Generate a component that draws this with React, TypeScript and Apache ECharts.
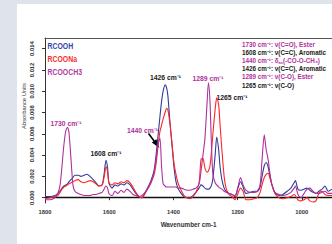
import React, { useEffect, useRef } from "react";
import * as echarts from "echarts";

const wavenumbers = [
  1800, 1784, 1769, 1760, 1753, 1747, 1741, 1735, 1730, 1725,
  1719, 1713, 1707, 1697, 1688, 1679, 1669, 1660, 1650, 1641,
  1632, 1622, 1616, 1610, 1605, 1601, 1591, 1582, 1573, 1563,
  1554, 1545, 1535, 1526, 1517, 1507, 1498, 1488, 1479, 1470,
  1460, 1454, 1448, 1442, 1437, 1432, 1426, 1421, 1417, 1411,
  1404, 1398, 1392, 1386, 1376, 1367, 1358, 1348, 1339, 1330,
  1320, 1314, 1308, 1302, 1295, 1291, 1286, 1281, 1277, 1270,
  1265, 1259, 1255, 1249, 1242, 1236, 1227, 1217, 1208, 1199,
  1191, 1183, 1174, 1161, 1149, 1139, 1130, 1124, 1117, 1111,
  1105, 1099, 1093, 1084, 1071, 1059, 1046, 1034, 1024, 1020,
  1012, 1003, 993, 984, 975, 965, 956, 947, 937, 928,
  918, 906,
];

const rcooh = [
  0.0001, 0.0001, 0.0002, 0.0004, 0.0006, 0.0009, 0.0011, 0.0012, 0.0013, 0.0015,
  0.0017, 0.0019, 0.0021, 0.0021, 0.002, 0.0021, 0.0022, 0.002, 0.0017, 0.0014,
  0.0011, 0.0012, 0.0022, 0.0035, 0.0028, 0.0014, 0.0009, 0.0012, 0.0011, 0.0013,
  0.0012, 0.0014, 0.0012, 0.0008, 0.0004, 0.0001, 0.0, 0.0005, 0.001, 0.0016,
  0.0026, 0.004, 0.0058, 0.0076, 0.009, 0.01, 0.0106, 0.0103, 0.0095, 0.0072,
  0.0048, 0.0028, 0.0015, 0.0009, 0.0004, 0.0001, 0.0, 0.0, 0.0002, 0.0005,
  0.0009, 0.0012, 0.0011, 0.0009, 0.0008, 0.0008, 0.0009, 0.0012, 0.0018, 0.004,
  0.0057, 0.0045, 0.003, 0.0017, 0.0009, 0.0006, 0.0004, 0.0003, 0.0001, 0.0009,
  0.0015, 0.001, 0.0004, 0.0005, 0.0006, 0.0006, 0.001, 0.002, 0.003, 0.0033,
  0.0029, 0.002, 0.0012, 0.0005, 0.0002, 0.0003, 0.0006, 0.0009, 0.0014, 0.0016,
  0.0008, 0.0007, 0.0008, 0.0009, 0.0007, 0.0005, 0.0004, 0.0006, 0.0008, 0.0011,
  0.0006, 0.0008,
];

const rcoona = [
  -0.0001, 0.0, 0.0001, 0.0002, 0.0005, 0.0008, 0.001, 0.0011, 0.0012, 0.0013,
  0.0014, 0.0015, 0.0016, 0.0017, 0.0015, 0.0014, 0.0015, 0.0016, 0.0015, 0.0013,
  0.0011, 0.0012, 0.0019, 0.0029, 0.0024, 0.0014, 0.0012, 0.0014, 0.0013, 0.0015,
  0.0014, 0.0016, 0.0014, 0.001, 0.0005, 0.0001, 0.0, 0.0004, 0.0009, 0.0014,
  0.0022, 0.0032, 0.0048, 0.0062, 0.0068, 0.0074, 0.008, 0.0084, 0.0082, 0.007,
  0.005, 0.0032, 0.0022, 0.0014, 0.0007, 0.0002, 0.0, -0.0001, 0.0001, 0.0005,
  0.0014, 0.0036, 0.0037, 0.0028, 0.0024, 0.0025, 0.003, 0.0045, 0.006, 0.0083,
  0.0094, 0.0087, 0.007, 0.0045, 0.002, 0.0009, 0.0003, 0.0001, -0.0002, 0.0004,
  0.0009, 0.0006, -0.0002, -0.0002, -0.0001, 0.0, 0.0005, 0.0012, 0.0019, 0.0022,
  0.0023, 0.0018, 0.0012, 0.0004, 0.0, -0.0001, 0.0, 0.0001, 0.0003, 0.0002,
  -0.0002, -0.0003, -0.0002, 0.0, -0.0003, -0.0004, -0.0003, 0.0004, 0.0006, 0.0003,
  0.0002, 0.0002,
];

const rcooch3 = [
  -0.0002, -0.0002, 0.0, 0.0004, 0.0012, 0.003, 0.005, 0.0063, 0.0066, 0.006,
  0.0036, 0.0012, 0.0006, 0.0004, 0.0003, 0.0002, 0.0002, 0.0002, 0.0003, 0.0003,
  0.0004, 0.0005, 0.0008, 0.0011, 0.0009, 0.0004, 0.0002, 0.0006, 0.0004, 0.0007,
  0.0005, 0.0008, 0.0006, 0.0003, 0.0002, 0.0001, 0.0002, 0.0005, 0.0009, 0.0014,
  0.0024, 0.0036, 0.005, 0.0056, 0.003, 0.0013, 0.0011, 0.001, 0.001, 0.001,
  0.001, 0.001, 0.001, 0.0009, 0.0009, 0.0008, 0.0007, 0.0007, 0.0008, 0.0009,
  0.0013, 0.0025, 0.004, 0.0055, 0.009, 0.0108, 0.009, 0.0045, 0.0022, 0.0014,
  0.0012, 0.001, 0.0009, 0.0008, 0.0006, 0.0005, 0.0004, 0.0003, 0.0002, 0.001,
  0.0019, 0.0012, 0.0007, 0.0005, 0.0005, 0.0006, 0.0012, 0.0035, 0.0059, 0.0045,
  0.0036, 0.0022, 0.0012, 0.0005, 0.0003, 0.0002, 0.0003, 0.0005, 0.0009, 0.0011,
  0.0003, 0.0, 0.0004, 0.0008, 0.0009, 0.0006, 0.0004, 0.0004, 0.0005, 0.0006,
  0.0004, 0.0004,
];

const seriesNames = ["RCOOH", "RCOONa", "RCOOCH3"];
const xTickValues = [1000, 1200, 1400, 1600, 1800];
const yTickValues = [0, 0.002, 0.004, 0.006, 0.008, 0.01, 0.012, 0.014];
const xAxisName = "Wavenumber cm-1";
const yAxisName = "Absorbance Units";

const assignmentLines = [
  "1730 cm⁻¹: ν(C=O), Ester",
  "1608 cm⁻¹: ν(C=C), Aromatic",
  "{n|1440 cm⁻¹: δ}{s|as}{n|(-CO-O-CH₃)}",
  "1426 cm⁻¹: ν(C=C), Aromatic",
  "1289 cm⁻¹: ν(C-O), Ester",
  "1265 cm⁻¹: ν(C-O)",
];

const peakLabels = ["1730 cm⁻¹", "1608 cm⁻¹", "1440 cm⁻¹", "1426 cm⁻¹", "1289 cm⁻¹", "1265 cm⁻¹"];

const BLUE = "#2e3c9c";
const RED = "#ff2626";
const PURPLE = "#b0309c";
const BLACK = "#1a1a1a";
const FONT = "'Liberation Sans', Arial, sans-serif";

export default function App() {
  const ref = useRef<HTMLDivElement>(null);

  useEffect(() => {
    if (!ref.current) return;
    const chart = echarts.init(ref.current, undefined, { renderer: "svg" });
    const seriesData = [rcooh, rcoona, rcooch3];
    const colors = [BLUE, RED, PURPLE];
    const legendColors = ["#3545a8", "#f23030", "#b23aa2"];
    const annColors = [PURPLE, BLACK, PURPLE, BLACK, PURPLE, BLACK];

    const peakPos: [number, number, string][] = [
      [50.5, 123.5, PURPLE],
      [90.5, 153, BLACK],
      [127, 130, PURPLE],
      [150, 77, BLACK],
      [192.5, 78.5, PURPLE],
      [216.5, 97, BLACK],
    ];

    const graphics: any[] = [];
    seriesNames.forEach((n, i) => {
      graphics.push({
        type: "text",
        x: 47.5,
        y: 46 + i * 13,
        scaleX: 0.72,
        style: {
          text: n,
          fill: legendColors[i],
          font: `bold 9.6px ${FONT}`,
          verticalAlign: "middle",
          align: "left",
        },
      });
    });
    assignmentLines.forEach((t, i) => {
      graphics.push({
        type: "text",
        x: 242,
        y: 44.3 + i * 8.15,
        style: {
          text: t,
          fill: annColors[i],
          font: `bold 6.3px ${FONT}`,
          verticalAlign: "middle",
          align: "left",
          rich: {
            n: { fill: annColors[i], font: `bold 6.3px ${FONT}` },
            s: { fill: annColors[i], font: `bold 4px ${FONT}`, padding: [4, 0, 0, 0] },
          },
        },
      });
    });
    peakLabels.forEach((t, i) => {
      graphics.push({
        type: "text",
        x: peakPos[i][0],
        y: peakPos[i][1],
        style: {
          text: t,
          fill: peakPos[i][2],
          font: `bold 6.8px ${FONT}`,
          verticalAlign: "middle",
          align: "left",
        },
      });
    });
    graphics.push({
      type: "text",
      x: 24,
      y: 106,
      rotation: Math.PI / 2,
      style: {
        text: yAxisName,
        fill: "#333",
        font: `5.8px ${FONT}`,
        align: "center",
        verticalAlign: "middle",
      },
    });
    graphics.push({
      type: "line",
      shape: { x1: 148.5, y1: 133.5, x2: 154.5, y2: 141.5 },
      style: { stroke: "#000", lineWidth: 1.6 },
    });
    graphics.push({
      type: "polygon",
      shape: { points: [[159.5, 148], [151.8, 142.6], [156.4, 139.2]] },
      style: { fill: "#000" },
    });

    const option: any = {
      animation: false,
      grid: { left: 45, right: 0, top: 38, bottom: 41 },
      xAxis: [
        {
          type: "value",
          min: 906,
          max: 1800,
          inverse: true,
          name: xAxisName,
          nameLocation: "middle",
          nameGap: 18,
          nameTextStyle: { fontSize: 6.3, fontWeight: "bold", color: "#333", fontFamily: FONT },
          axisLine: { show: true, lineStyle: { color: "#111", width: 1.4 } },
          axisTick: { show: true, length: 2.5, customValues: xTickValues, lineStyle: { color: "#333" } },
          axisLabel: {
            customValues: xTickValues,
            fontSize: 5.8,
            fontWeight: "bold",
            color: "#333",
            fontFamily: FONT,
            margin: 6,
            formatter: (v: number) => String(v),
          },
          splitLine: { show: false },
        },
        {
          type: "value",
          position: "top",
          min: 906,
          max: 1800,
          inverse: true,
          axisLine: { show: true, lineStyle: { color: "#555", width: 1 } },
          axisTick: { show: false },
          axisLabel: { show: false },
          splitLine: { show: false },
        },
      ],
      yAxis: {
        type: "value",
        min: -0.0005,
        max: 0.015,
        axisLine: { show: true, lineStyle: { color: "#333", width: 1 } },
        axisTick: { show: true, length: 3, customValues: yTickValues, lineStyle: { color: "#333" } },
        axisLabel: {
          customValues: yTickValues,
          rotate: 90,
          fontSize: 5.8,
          fontWeight: "bold",
          color: "#333",
          fontFamily: FONT,
          margin: 10,
          formatter: (v: number) => v.toFixed(3),
        },
        splitLine: { show: false },
      },
      graphic: graphics,
      series: seriesNames.map((n, i) => ({
        name: n,
        type: "line",
        data: wavenumbers.map((w, j) => [w, seriesData[i][j]]),
        showSymbol: false,
        smooth: 0.25,
        lineStyle: { color: colors[i], width: 1.1 },
        itemStyle: { color: colors[i] },
      })),
    };
    chart.setOption(option);
    return () => chart.dispose();
  }, []);

  return (
    <div style={{ position: "fixed", left: 0, top: 0, width: 332, height: 244, background: "#dee4ea", overflow: "hidden" }}>
      <div style={{ position: "absolute", left: 17, top: 4, right: 0, bottom: 0, background: "#ffffff" }} />
      <div ref={ref} style={{ position: "absolute", left: 0, top: 0, width: 332, height: 244 }} />
    </div>
  );
}
